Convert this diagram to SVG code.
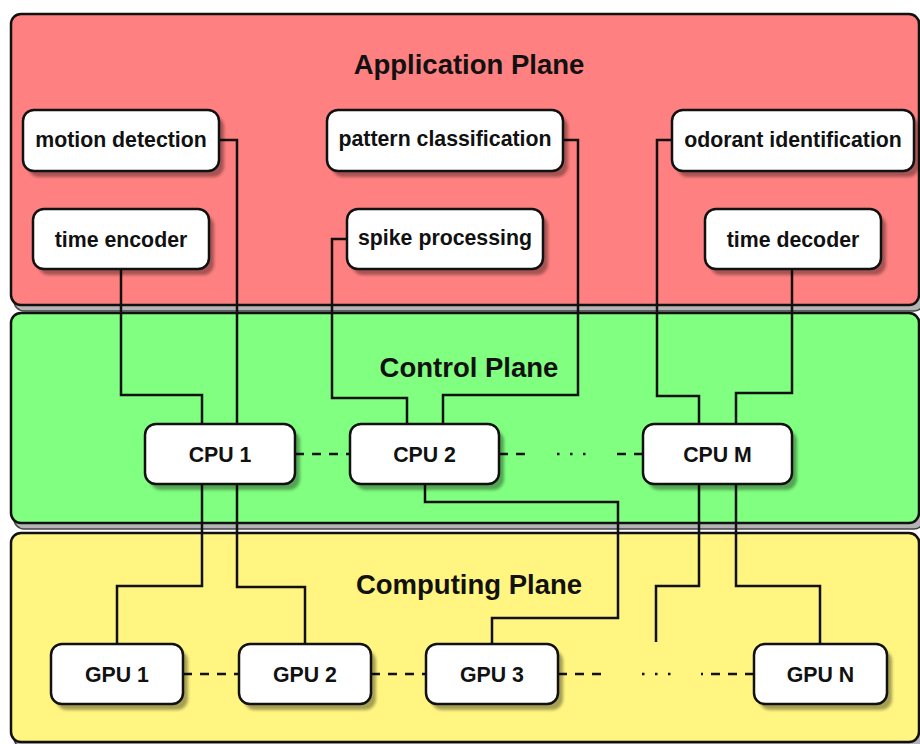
<svg xmlns="http://www.w3.org/2000/svg" width="920" height="744" viewBox="0 0 920 744">
<defs>
<filter id="blur" x="-10%" y="-10%" width="120%" height="130%"><feGaussianBlur stdDeviation="1.5"/></filter>
<style>
.plane{stroke:#111;stroke-width:2.5}
.pshadow{fill:#b4b4b4;stroke:#444;stroke-width:1.5}
.app{fill:#FF8080}
.ctl{fill:#80FF80}
.cmp{fill:#FFF580}
.title{font-family:"Liberation Sans",Arial,sans-serif;font-weight:bold;font-size:27.5px;fill:#111;text-anchor:middle}
.box{fill:#fff;stroke:#111;stroke-width:2.5}
.shadow{fill:#000;opacity:0.35;filter:url(#blur)}
.lbl{font-family:"Liberation Sans",Arial,sans-serif;font-weight:bold;font-size:21.3px;fill:#111;text-anchor:middle}
.wire{fill:none;stroke:#111;stroke-width:2.5}
.dash{fill:none;stroke:#111;stroke-width:2.5;stroke-dasharray:9 8}
.dots{fill:none;stroke:#111;stroke-width:2.5;stroke-dasharray:2.5 10.5}
</style>
</defs>
<rect width="920" height="744" fill="#fff"/>

<g id="planes">
<rect class="pshadow" x="14" y="19" width="910" height="292" rx="10"/>
<rect class="plane app" x="11" y="14" width="908" height="291" rx="10"/>
<rect class="pshadow" x="14" y="318" width="910" height="211" rx="10"/>
<rect class="plane ctl" x="11" y="313" width="908" height="210" rx="10"/>
<rect class="pshadow" x="14" y="538" width="910" height="210" rx="10"/>
<rect class="plane cmp" x="11" y="533" width="908" height="209" rx="10"/>
<text class="title" x="469" y="74">Application Plane</text>
<text class="title" x="469" y="377">Control Plane</text>
<text class="title" x="469" y="594">Computing Plane</text>
</g>

<g id="connectors">
<path class="wire" d="M219,140 H237 V424"/>
<path class="wire" d="M237,484 V587 H305 V644"/>
<path class="wire" d="M121,269 V395 H202 V424"/>
<path class="wire" d="M202,484 V586 H117 V644"/>
<path class="wire" d="M347,239 H332 V398 H407 V424"/>
<path class="wire" d="M563,140 H578 V395 H443 V424"/>
<path class="wire" d="M425,484 V502 H618 V618 H492 V644"/>
<path class="wire" d="M672,140 H657 V396 H699 V424"/>
<path class="wire" d="M792,269 V393 H736 V424"/>
<path class="wire" d="M699,484 V586 H656 V642"/>
<path class="wire" d="M736,484 V586 H820 V644"/>
<path class="dash" d="M295,454 H350"/>
<path class="dash" d="M499,454 H527"/>
<path class="dots" d="M557,454 H586"/>
<path class="dash" d="M643,454 H616"/>
<path class="dash" d="M183,674 H239"/>
<path class="dash" d="M371,674 H426"/>
<path class="dash" d="M558,674 H607"/>
<path class="dots" d="M642,674 H671"/>
<path class="dash" d="M754,674 H701"/>
</g>

<g id="motion-detection"><rect class="shadow" x="28" y="116" width="196" height="61" rx="11"/><rect class="box" x="23" y="110" width="196" height="61" rx="11"/><text class="lbl" x="121" y="147">motion detection</text></g>
<g id="time-encoder"><rect class="shadow" x="38" y="215" width="176" height="60" rx="11"/><rect class="box" x="33" y="209" width="176" height="60" rx="11"/><text class="lbl" x="121" y="247">time encoder</text></g>
<g id="pattern-classification"><rect class="shadow" x="332" y="116" width="236" height="61" rx="11"/><rect class="box" x="327" y="110" width="236" height="61" rx="11"/><text class="lbl" x="445" y="146">pattern classification</text></g>
<g id="spike-processing"><rect class="shadow" x="352" y="215" width="196" height="60" rx="11"/><rect class="box" x="347" y="209" width="196" height="60" rx="11"/><text class="lbl" x="445" y="245">spike processing</text></g>
<g id="odorant-identification"><rect class="shadow" x="677" y="116" width="242" height="61" rx="11"/><rect class="box" x="672" y="110" width="242" height="61" rx="11"/><text class="lbl" x="793" y="147">odorant identification</text></g>
<g id="time-decoder"><rect class="shadow" x="710" y="215" width="176" height="60" rx="11"/><rect class="box" x="705" y="209" width="176" height="60" rx="11"/><text class="lbl" x="793" y="247">time decoder</text></g>

<g id="cpu1"><rect class="shadow" x="150" y="430" width="150" height="60" rx="11"/><rect class="box" x="145" y="424" width="150" height="60" rx="11"/><text class="lbl" x="220" y="462">CPU 1</text></g>
<g id="cpu2"><rect class="shadow" x="355" y="430" width="149" height="60" rx="11"/><rect class="box" x="350" y="424" width="149" height="60" rx="11"/><text class="lbl" x="424.5" y="462">CPU 2</text></g>
<g id="cpum"><rect class="shadow" x="648" y="430" width="149" height="60" rx="11"/><rect class="box" x="643" y="424" width="149" height="60" rx="11"/><text class="lbl" x="717.5" y="462">CPU M</text></g>

<g id="gpu1"><rect class="shadow" x="56" y="650" width="132" height="60" rx="11"/><rect class="box" x="51" y="644" width="132" height="60" rx="11"/><text class="lbl" x="117" y="682">GPU 1</text></g>
<g id="gpu2"><rect class="shadow" x="244" y="650" width="132" height="60" rx="11"/><rect class="box" x="239" y="644" width="132" height="60" rx="11"/><text class="lbl" x="305" y="682">GPU 2</text></g>
<g id="gpu3"><rect class="shadow" x="431" y="650" width="132" height="60" rx="11"/><rect class="box" x="426" y="644" width="132" height="60" rx="11"/><text class="lbl" x="492" y="682">GPU 3</text></g>
<g id="gpun"><rect class="shadow" x="759" y="650" width="133" height="60" rx="11"/><rect class="box" x="754" y="644" width="133" height="60" rx="11"/><text class="lbl" x="820.5" y="682">GPU N</text></g>
</svg>
